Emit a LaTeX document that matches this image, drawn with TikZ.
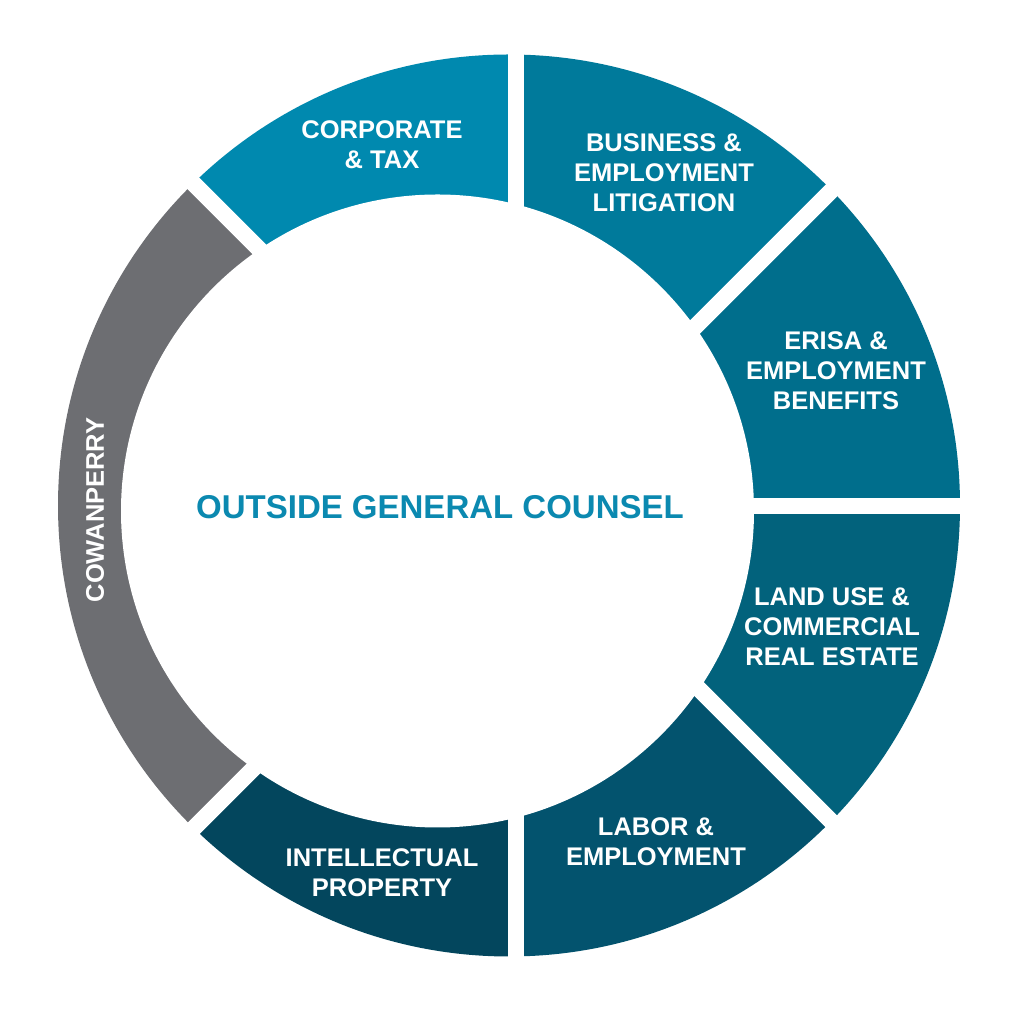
\documentclass[tikz,border=0pt]{standalone}
\usepackage{fontspec}
\setmainfont{Liberation Sans}
\definecolor{cCorp}{RGB}{0,137,175}
\definecolor{cBus}{RGB}{0,122,155}
\definecolor{cErisa}{RGB}{0,110,140}
\definecolor{cLand}{RGB}{2,98,124}
\definecolor{cLabor}{RGB}{3,83,110}
\definecolor{cIP}{RGB}{3,70,93}
\definecolor{cGrey}{RGB}{109,110,114}
\definecolor{cTitle}{RGB}{11,137,176}
\begin{document}
\begin{tikzpicture}[x=1pt,y=1pt,
  seglabel/.style={text=white, font=\bfseries\fontsize{25.5}{30}\selectfont, align=center, inner sep=0pt},
  titlelabel/.style={text=cTitle, font=\bfseries\fontsize{33}{38}\selectfont, inner sep=0pt},
  gapline/.style={white, line width=16.5pt}]
\useasboundingbox (0,0) rectangle (1024,1024);
\fill[white] (0,0) rectangle (1024,1024);
\coordinate (O) at (509,518.5);
\coordinate (G) at (516,518);
\coordinate (I) at (437.5,513);
\begin{scope}
  \clip (O) circle[radius=451];
  \fill[cCorp]  (G) -- ++(90:600)  arc[start angle=90,  end angle=135, radius=600] -- cycle;
  \fill[cBus]   (G) -- ++(45:600)  arc[start angle=45,  end angle=90,  radius=600] -- cycle;
  \fill[cErisa] (G) -- ++(0:600)   arc[start angle=0,   end angle=45,  radius=600] -- cycle;
  \fill[cLand]  (G) -- ++(-45:600) arc[start angle=-45, end angle=0,   radius=600] -- cycle;
  \fill[cLabor] (G) -- ++(-90:600) arc[start angle=-90, end angle=-45, radius=600] -- cycle;
  \fill[cIP]    (G) -- ++(-135:600) arc[start angle=-135, end angle=-90, radius=600] -- cycle;
  \fill[cGrey]  (G) -- ++(135:600) arc[start angle=135, end angle=225, radius=600] -- cycle;
\end{scope}
\fill[white] (I) circle[radius=316.5];
\foreach \a in {90,45,0,-45,-90,-135,135}
  \draw[gapline] (G) -- ++(\a:480);
\node[seglabel] (corp)  at (382,879) {CORPORATE\\\& TAX};
\node[seglabel] (bus)   at (664,851) {BUSINESS \&\\EMPLOYMENT\\LITIGATION};
\node[seglabel] (erisa) at (836,653) {ERISA \&\\EMPLOYMENT\\BENEFITS};
\node[seglabel] (land)  at (832,397) {LAND USE \&\\COMMERCIAL\\REAL ESTATE};
\node[seglabel] (labor) at (656,182) {LABOR \&\\EMPLOYMENT};
\node[seglabel] (ip)    at (382,151) {INTELLECTUAL\\PROPERTY};
\node[seglabel, rotate=90] (cowan) at (95,514) {COWANPERRY};
\node[titlelabel] (title) at (440,517) {OUTSIDE GENERAL COUNSEL};
\end{tikzpicture}
\end{document}
